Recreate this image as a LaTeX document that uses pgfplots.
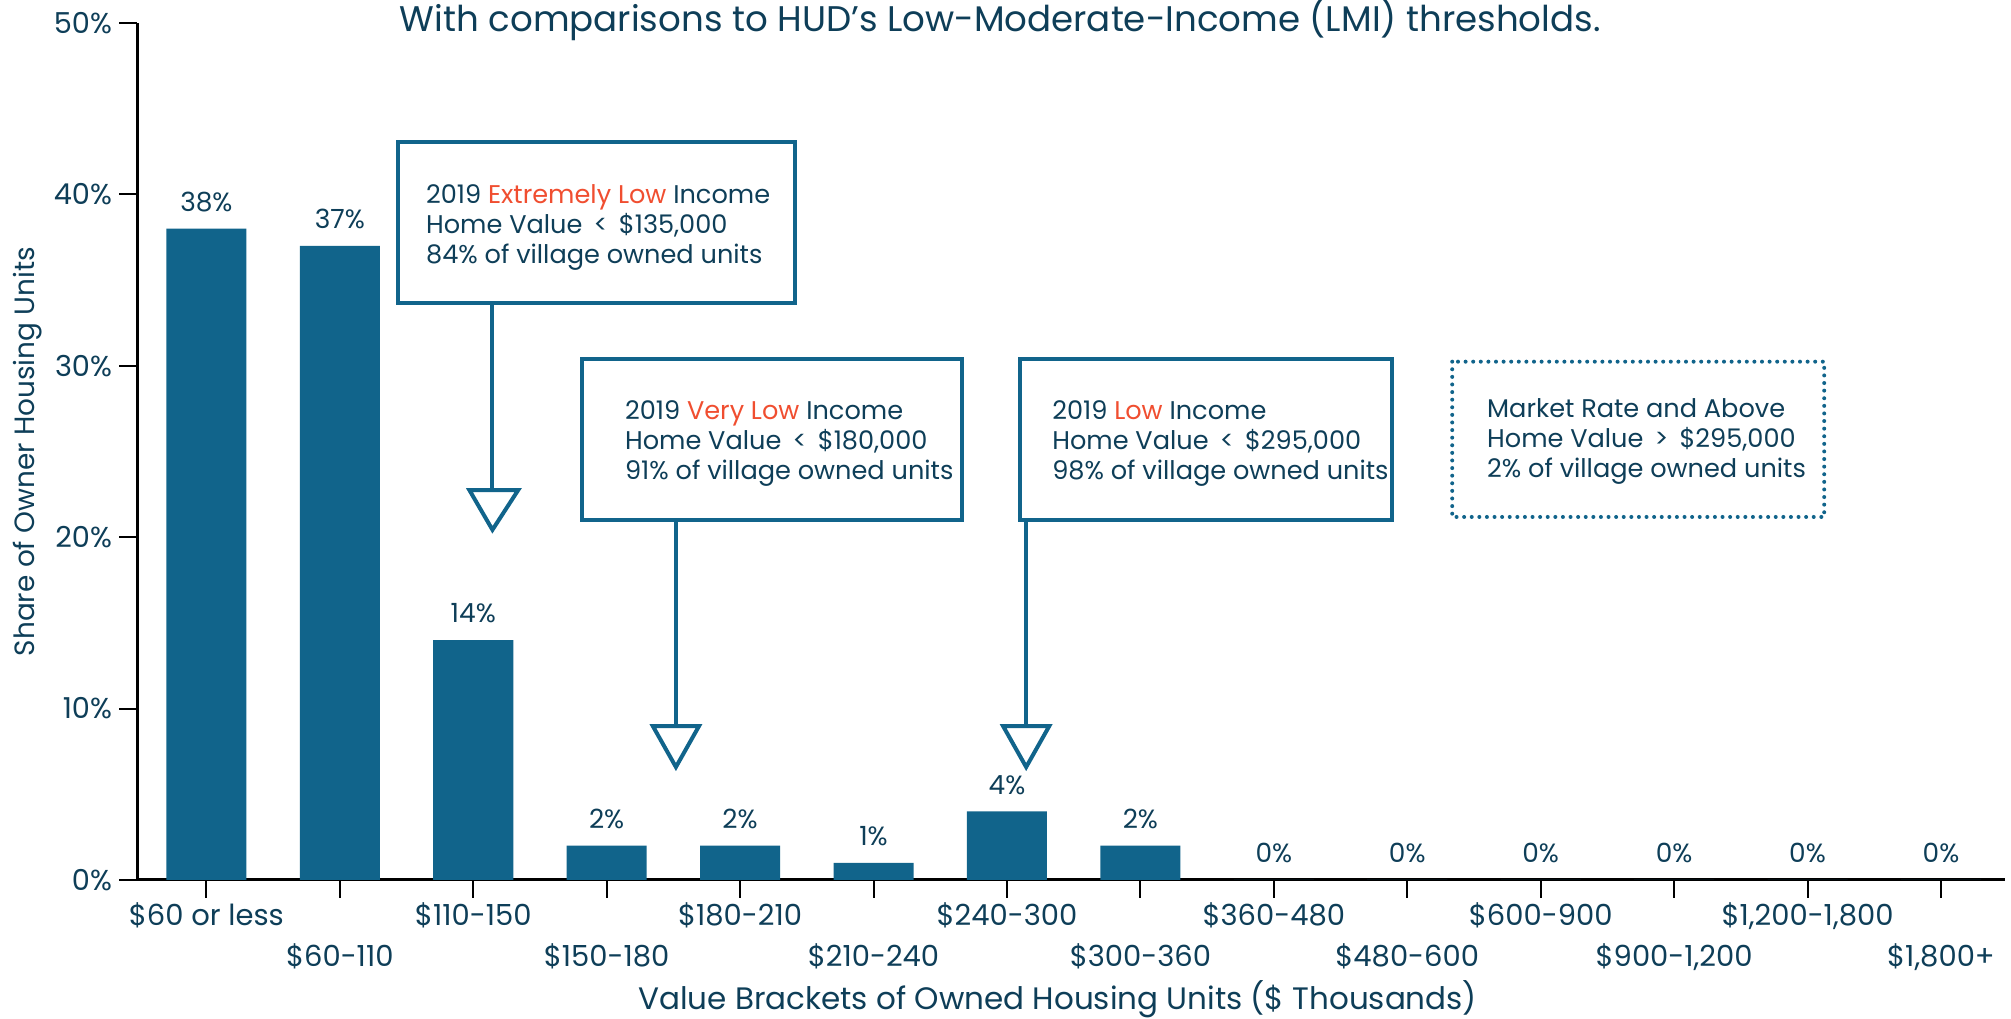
\documentclass[border=0pt]{standalone}
\usepackage{pgfplots}
\pgfplotsset{compat=1.18}
\usepackage{fontspec}
\setmainfont{Poppins}
\definecolor{barc}{RGB}{17,100,139}
\definecolor{txt}{RGB}{14,62,88}
\definecolor{org}{RGB}{240,78,48}
\begin{document}
\begin{tikzpicture}
\begin{axis}[name=ax, scale only axis, width=934pt, height=428.5pt,
  xmin=-0.52, xmax=13.48, ymin=0, ymax=50, clip=false,
  axis x line*=bottom, axis y line*=left,
  axis line style={line width=1.5pt, black, -},
  ybar, bar width=0.6,
  xtick={0,2,...,12},
  xticklabels={{\$60 or less},{\$110-150},{\$180-210},{\$240-300},{\$360-480},{\$600-900},{\$1,200-1,800}},
  extra x ticks={1,3,...,13},
  extra x tick labels={{\$60-110},{\$150-180},{\$210-240},{\$300-360},{\$480-600},{\$900-1,200},{\$1,800+}},
  extra x tick style={xticklabel style={yshift=-20.5pt}},
  xticklabel style={font=\fontsize{14.5}{17}\selectfont, text=txt, anchor=north, yshift=1pt},
  ytick={0,10,...,50},
  yticklabel={\pgfmathprintnumber[assume math mode=true]{\tick}\%},
  yticklabel style={font=\fontsize{14.4}{17}\selectfont, text=txt},
  tick align=outside, major tick length=9pt,
  xtick style={black, line width=1pt}, ytick style={black, line width=1pt},
  nodes near coords={\pgfmathprintnumber[assume math mode=true]{\pgfplotspointmeta}\%},
  every node near coord/.append style={font=\fontsize{13.2}{15}\selectfont, text=txt, yshift=5pt},
]
\addplot[fill=barc, draw=none] coordinates {(0,38) (1,37) (2,14) (3,2) (4,2) (5,1) (6,4) (7,2) (8,0) (9,0) (10,0) (11,0) (12,0) (13,0)};

% title and axis labels
\node[text=txt, font=\fontsize{17.8}{20}\selectfont] at (axis cs:5.95,50.2) {With comparisons to HUD's Low-Moderate-Income (LMI) thresholds.};
\node[text=txt, font=\fontsize{15.5}{18}\selectfont] at (axis cs:6.38,-6.95) {Value Brackets of Owned Housing Units (\$ Thousands)};
\node[text=txt, font=\fontsize{13.95}{17}\selectfont, rotate=90] at (axis cs:-1.337,25) {Share of Owner Housing Units};

% box 1
\draw[barc, line width=2pt] (axis cs:1.433,43.04) rectangle (axis cs:4.413,33.68);
\draw[barc, line width=2pt] (axis cs:2.144,33.68) -- (axis cs:2.144,22.75);
\draw[barc, line width=2pt, fill=white] (axis cs:1.971,22.75) -- (axis cs:2.337,22.75) -- (axis cs:2.144,20.43) -- cycle;
\node[text=txt, align=left, anchor=west, font=\fontsize{12.8}{15}\selectfont, inner sep=0pt] at (axis cs:1.644,38.06) {2019 \textcolor{org}{Extremely Low} Income\\Home Value \,<\, \$135,000\\84\% of village owned units};
% box 2
\draw[barc, line width=2pt] (axis cs:2.817,30.39) rectangle (axis cs:5.663,21.03);
\draw[barc, line width=2pt] (axis cs:3.519,21.03) -- (axis cs:3.519,8.98);
\draw[barc, line width=2pt, fill=white] (axis cs:3.346,8.98) -- (axis cs:3.692,8.98) -- (axis cs:3.519,6.59) -- cycle;
\node[text=txt, align=left, anchor=west, font=\fontsize{12.8}{15}\selectfont, inner sep=0pt] at (axis cs:3.135,25.45) {2019 \textcolor{org}{Very Low} Income\\Home Value \,<\, \$180,000\\91\% of village owned units};
% box 3
\draw[barc, line width=2pt] (axis cs:6.096,30.39) rectangle (axis cs:8.885,21.03);
\draw[barc, line width=2pt] (axis cs:6.144,21.03) -- (axis cs:6.144,8.98);
\draw[barc, line width=2pt, fill=white] (axis cs:5.971,8.98) -- (axis cs:6.317,8.98) -- (axis cs:6.144,6.59) -- cycle;
\node[text=txt, align=left, anchor=west, font=\fontsize{12.8}{15}\selectfont, inner sep=0pt] at (axis cs:6.337,25.45) {2019 \textcolor{org}{Low} Income\\Home Value \,<\, \$295,000\\98\% of village owned units};
% box 4
\draw[barc, line width=2pt, line cap=round, dash pattern=on 0pt off 3.8pt] (axis cs:9.337,30.24) rectangle (axis cs:12.125,21.18);
\node[text=txt, align=left, anchor=west, font=\fontsize{12.8}{15}\selectfont, inner sep=0pt] at (axis cs:9.596,25.6) {Market Rate and Above\\Home Value \,>\, \$295,000\\2\% of village owned units};
\end{axis}
\pgfresetboundingbox
\path[use as bounding box] ([shift={(-68.5pt,-69.5pt)}]ax.south west) rectangle ([shift={(3pt,11.5pt)}]ax.north east);
\end{tikzpicture}
\end{document}
